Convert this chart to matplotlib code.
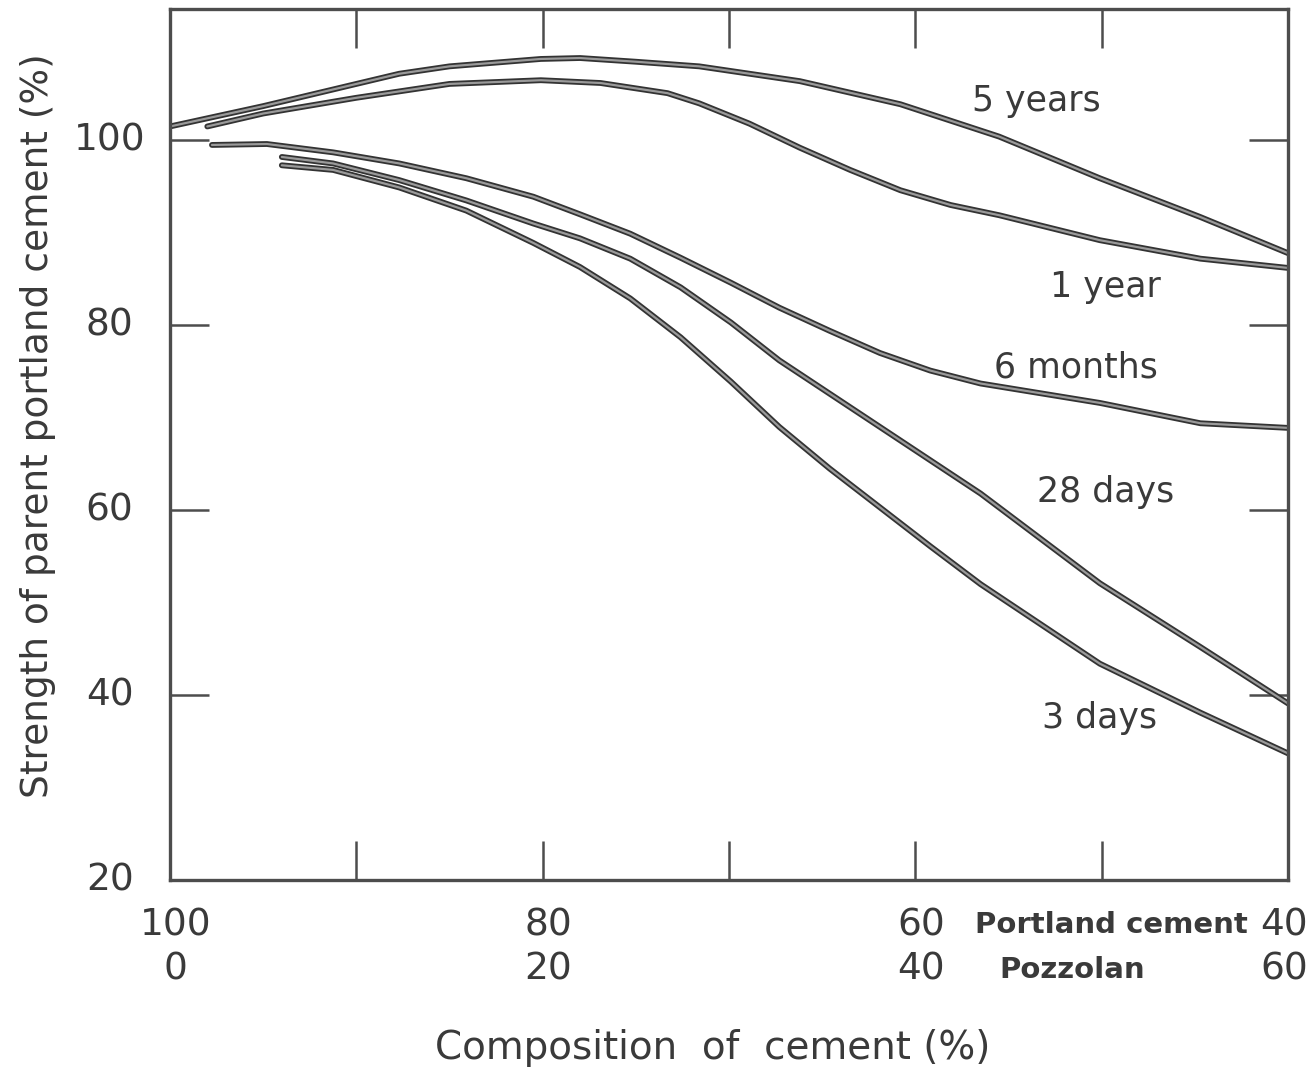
import matplotlib
matplotlib.use("Agg")
import matplotlib.pyplot as plt

# pozzolan content (%) and strength relative to parent portland cement (%)
five_years_x = [0, 5, 10, 12.3, 15, 19.9, 22, 25, 28.4, 33.8, 39.2, 44.5, 49.9, 55.3, 60]
five_years_y = [101.5, 103.7, 106.1, 107.2, 108.0, 108.8, 108.9, 108.5, 108.0, 106.4, 103.9, 100.4, 95.9, 91.7, 87.8]

one_year_x = [2.0, 5, 10, 15, 19.9, 23.1, 26.7, 28.4, 31.1, 33.8, 36.5, 39.2, 41.9, 44.5, 49.9, 55.3, 60]
one_year_y = [101.5, 102.9, 104.6, 106.1, 106.5, 106.2, 105.1, 104.0, 101.8, 99.2, 96.8, 94.6, 93.0, 91.9, 89.2, 87.2, 86.2]

six_months_x = [2.25, 5.2, 8.75, 12.3, 15.9, 19.5, 22.0, 24.7, 27.4, 30.1, 32.7, 35.4, 38.1, 40.8, 43.5, 49.9, 55.3, 60]
six_months_y = [99.5, 99.6, 98.7, 97.5, 95.9, 93.9, 92.0, 89.9, 87.3, 84.6, 81.9, 79.4, 77.0, 75.1, 73.7, 71.6, 69.4, 68.9]

days28_x = [6.0, 8.75, 12.3, 15.9, 19.5, 22.0, 24.7, 27.4, 30.1, 32.7, 35.4, 38.1, 40.8, 43.5, 49.9, 55.3, 60]
days28_y = [98.2, 97.5, 95.7, 93.5, 91.0, 89.4, 87.2, 84.1, 80.3, 76.2, 72.6, 69.0, 65.4, 61.8, 52.1, 45.2, 39.1]

days3_x = [6.0, 8.75, 12.3, 15.9, 19.5, 22.0, 24.7, 27.4, 30.1, 32.7, 35.4, 38.1, 40.8, 43.5, 49.9, 55.3, 60]
days3_y = [97.3, 96.8, 94.9, 92.4, 88.9, 86.3, 82.9, 78.7, 73.9, 69.0, 64.5, 60.3, 56.1, 52.0, 43.4, 38.1, 33.7]

curve_labels = ["5 years", "1 year", "6 months", "28 days", "3 days"]
label_x = [46.5, 50.2, 48.6, 50.2, 49.9]
label_y = [104.3, 84.1, 75.4, 62.0, 37.5]

ytick_vals = [20, 40, 60, 80, 100]
portland_ticks = ["100", "80", "60", "40"]
pozzolan_ticks = ["0", "20", "40", "60"]
comp_ticks = [0, 20, 40, 60]

line_col = "#4d4d4d"
text_col = "#3a3a3a"

fig = plt.figure(figsize=(13.12, 10.74), dpi=100)
ax = fig.add_axes([0.1296, 0.1806, 0.8521, 0.811])

series = [(five_years_x, five_years_y), (one_year_x, one_year_y),
          (six_months_x, six_months_y), (days28_x, days28_y), (days3_x, days3_y)]
for xs, ys in series:
    # dark outline with a lighter core, like the scanned ink lines
    ax.plot(xs, ys, color="#333333", lw=4.2, solid_capstyle="round", solid_joinstyle="round")
    ax.plot(xs, ys, color="#9a9a9a", lw=1.6, solid_capstyle="round", solid_joinstyle="round")

for name, lx, ly in zip(curve_labels, label_x, label_y):
    ax.text(lx, ly, name, fontsize=25, color=text_col, ha="center", va="center")

ax.set_xlim(0, 60)
ax.set_ylim(20, 114.2)
ax.set_xticks([10, 20, 30, 40, 50])
ax.set_yticks([40, 60, 80, 100])
ax.tick_params(direction="in", length=28, width=1.8, color=line_col,
               top=True, right=True, labelbottom=False, labelleft=False)
for sp in ax.spines.values():
    sp.set_linewidth(2.4)
    sp.set_color(line_col)

# y tick labels, centred like the original
ytr = ax.get_yaxis_transform()
for v in ytick_vals:
    ax.text(-0.054, v, str(v), transform=ytr, fontsize=27, color=text_col,
            ha="center", va="center", clip_on=False)

# two-row x tick labels (portland cement / pozzolan)
xtr = ax.get_xaxis_transform()
for v, p, z in zip(comp_ticks, portland_ticks, pozzolan_ticks):
    xp = v + 0.3
    if v == 60:
        xp = v - 0.2
    ax.text(xp, -0.052, p, transform=xtr, fontsize=27, color=text_col,
            ha="center", va="center", clip_on=False)
    ax.text(xp, -0.103, z, transform=xtr, fontsize=27, color=text_col,
            ha="center", va="center", clip_on=False)
ax.text(50.5, -0.052, "Portland cement", transform=xtr, fontsize=21, color=text_col,
        fontweight="bold", ha="center", va="center", clip_on=False)
ax.text(48.4, -0.103, "Pozzolan", transform=xtr, fontsize=21, color=text_col,
        fontweight="bold", ha="center", va="center", clip_on=False)

fig.text(0.543, 0.024, "Composition  of  cement (%)", fontsize=28, color=text_col,
         ha="center", va="center")
fig.text(0.029, 0.604, "Strength of parent portland cement (%)", fontsize=27,
         color=text_col, rotation=90, ha="center", va="center")

fig.savefig("out.png", dpi=100)
